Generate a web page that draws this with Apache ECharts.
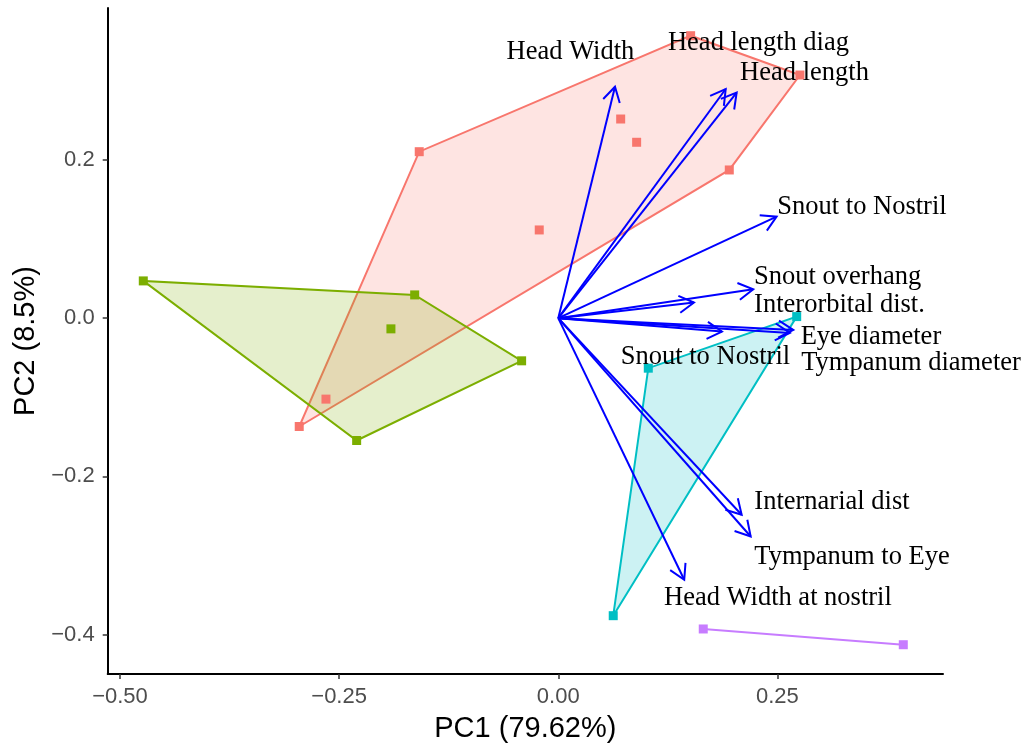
<!DOCTYPE html>
<html><head><meta charset="utf-8">
<script src="https://cdn.jsdelivr.net/npm/echarts@6/dist/echarts.min.js"></script>
<style>html,body{margin:0;padding:0;background:#fff}#c{width:1028px;height:748px}</style>
</head><body><div id="c"></div>
<script>
// ---- data (PC1, PC2 scores) ----
const group1Points = [[0.151,0.357],[0.2757,0.3073],[0.1951,0.1873],[0.0712,0.2517],[0.0894,0.2223],[-0.1586,0.2104],[-0.0217,0.1115],[-0.2955,-0.1369],[-0.265,-0.1023]];
const group2Points = [[-0.4734,0.0471],[-0.1638,0.0294],[-0.0418,-0.0539],[-0.23,-0.1546],[-0.1909,-0.0135]];
const group3Points = [[0.272,0.002],[0.1027,-0.0632],[0.0627,-0.376]];
const group4Points = [[0.1654,-0.3928],[0.3936,-0.4127]];

// ---- variable loadings (arrows) ----
const varNames = ['Head Width','Head length diag','Head length','Snout to Nostril','Snout overhang','Interorbital dist.','Eye diameter','Tympanum diameter','Snout to Nostril','Internarial dist','Tympanum to Eye','Head Width at nostril'];
const varPC1 = [0.0647,0.191,0.2035,0.2491,0.2224,0.1548,0.2681,0.2643,0.1867,0.2092,0.2195,0.1437];
const varPC2 = [0.2925,0.2896,0.285,0.1283,0.0366,0.0197,-0.0148,-0.0186,-0.0169,-0.2485,-0.2759,-0.3306];
// label anchor (centre) positions of the variable names
const labelPC1 = [0.0139,0.2284,0.2809,0.3465,0.3187,0.3208,0.3567,0.4024,0.1679,0.3122,0.3351,0.2506];
const labelPC2 = [0.3364,0.3477,0.3098,0.1406,0.0522,0.0168,-0.0236,-0.0565,-0.0489,-0.232,-0.3015,-0.3533];

// ---- axis ----
const xTicks = [-0.5,-0.25,0,0.25];
const yTicks = [-0.4,-0.2,0,0.2];
const xTitle = 'PC1 (79.62%)';
const yTitle = 'PC2 (8.5%)';

// ---- styles ----
const colors = ['#F8766D','#7CAE00','#00BFC4','#C77CFF'];
const fills = ['rgba(248,118,109,0.2)','rgba(124,174,0,0.2)','rgba(0,191,196,0.2)','rgba(199,124,255,0.2)'];
const groups = [group1Points, group2Points, group3Points, group4Points];

function hull(pts){
  const p = pts.slice().sort((a,b)=>a[0]-b[0]||a[1]-b[1]);
  if (p.length < 3) return p;
  const cross=(o,a,b)=>(a[0]-o[0])*(b[1]-o[1])-(a[1]-o[1])*(b[0]-o[0]);
  const lo=[],up=[];
  for(const q of p){while(lo.length>=2&&cross(lo[lo.length-2],lo[lo.length-1],q)<=0)lo.pop();lo.push(q);}
  for(let i=p.length-1;i>=0;i--){const q=p[i];while(up.length>=2&&cross(up[up.length-2],up[up.length-1],q)<=0)up.pop();up.push(q);}
  up.pop();lo.pop();
  return lo.concat(up);
}

const series = [];
groups.forEach((pts,gi)=>{
  const h = hull(pts);
  series.push({
    type:'custom', coordinateSystem:'cartesian2d', silent:true, z:2,
    data:[pts[0]],
    renderItem:(params, api)=>{
      const cp = h.map(q=>api.coord(q));
      if (cp.length < 3) {
        return {type:'polyline', shape:{points:cp}, style:{stroke:colors[gi], lineWidth:2, fill:null}};
      }
      return {type:'polygon', shape:{points:cp}, style:{fill:fills[gi], stroke:colors[gi], lineWidth:2}};
    }
  });
  series.push({
    type:'scatter', silent:true, z:2, symbol:'rect', symbolSize:9,
    itemStyle:{color:colors[gi], opacity:1},
    data:pts
  });
});

// arrows
series.push({
  type:'custom', coordinateSystem:'cartesian2d', silent:true, z:5,
  data: varPC1.map((v,i)=>[v,varPC2[i]]),
  renderItem:(params, api)=>{
    const o = api.coord([0,0]);
    const t = api.coord([api.value(0), api.value(1)]);
    const ang = Math.atan2(t[1]-o[1], t[0]-o[0]);
    const L = 17, a = Math.PI/6;
    const h1 = [t[0]-L*Math.cos(ang-a), t[1]-L*Math.sin(ang-a)];
    const h2 = [t[0]-L*Math.cos(ang+a), t[1]-L*Math.sin(ang+a)];
    return {type:'group', children:[
      {type:'line', shape:{x1:o[0],y1:o[1],x2:t[0],y2:t[1]}, style:{stroke:'#0000FF', lineWidth:2}},
      {type:'polyline', shape:{points:[h1,t,h2]}, style:{stroke:'#0000FF', lineWidth:2, fill:null}}
    ]};
  }
});

// variable labels
series.push({
  type:'custom', coordinateSystem:'cartesian2d', silent:true, z:6,
  data: labelPC1.map((v,i)=>[v,labelPC2[i],i]),
  renderItem:(params, api)=>{
    const p = api.coord([api.value(0), api.value(1)]);
    return {type:'text', x:p[0], y:p[1], style:{text:varNames[api.value(2)], align:'center', verticalAlign:'middle', fill:'#000', font:'26.5px "Liberation Serif", "Times New Roman", serif'}};
  }
});

const fmt = d => v => (v<0?'\u2212':'') + Math.abs(v).toFixed(d);

const chart = echarts.init(document.getElementById('c'), null, {renderer:'canvas'});
chart.setOption({
  animation:false,
  backgroundColor:'#fff',
  grid:{left:107.7, right:85, top:8, bottom:73.7, containLabel:false},
  xAxis:{
    type:'value', min:-0.514, max:0.4389,
    name:xTitle, nameLocation:'middle', nameGap:40,
    nameTextStyle:{fontFamily:'Liberation Sans, Arial, sans-serif', fontSize:29, color:'#000'},
    axisLine:{show:true, onZero:false, lineStyle:{color:'#000', width:2}},
    axisTick:{show:true, length:5, customValues:xTicks, lineStyle:{color:'#333', width:1.5}},
    axisLabel:{customValues:xTicks, formatter:fmt(2), margin:12, fontFamily:'Liberation Sans, Arial, sans-serif', fontSize:22, color:'#4D4D4D'},
    splitLine:{show:false}
  },
  yAxis:{
    type:'value', min:-0.4497, max:0.392,
    name:yTitle, nameLocation:'middle', nameGap:63, nameRotate:90,
    nameTextStyle:{fontFamily:'Liberation Sans, Arial, sans-serif', fontSize:29, color:'#000'},
    axisLine:{show:true, onZero:false, lineStyle:{color:'#000', width:2}},
    axisTick:{show:true, length:5, customValues:yTicks, lineStyle:{color:'#333', width:1.5}},
    axisLabel:{customValues:yTicks, formatter:fmt(1), margin:13, fontFamily:'Liberation Sans, Arial, sans-serif', fontSize:22, color:'#4D4D4D'},
    splitLine:{show:false}
  },
  series
});
</script></body></html>
